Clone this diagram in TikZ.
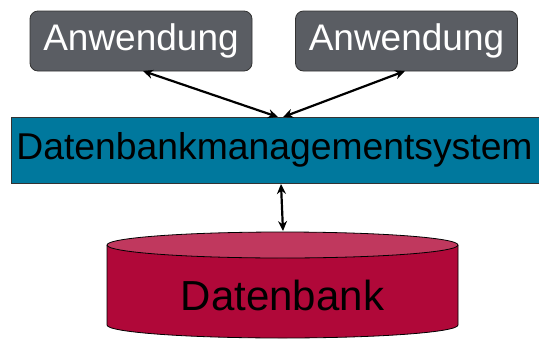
\documentclass[tikz,border=0pt]{standalone}
\usepackage{fontspec}
\setmainfont{Liberation Sans}
\usetikzlibrary{arrows.meta}
\definecolor{appgray}{HTML}{5A5D63}
\definecolor{dbmsblue}{HTML}{00789D}
\definecolor{dbbody}{HTML}{B00839}
\definecolor{dbtop}{HTML}{C0385E}
\tikzset{
  appbox/.style={draw=black!80, line width=0.8pt, fill=appgray, rounded corners=8pt,
    minimum width=222pt, minimum height=60pt, inner sep=0pt,
    text=white, font=\fontsize{37}{40}\selectfont},
  dbmsbox/.style={draw=black!80, line width=0.8pt, fill=dbmsblue},
  link/.style={line width=2.2pt, {Stealth[length=10pt,width=9pt]}-{Stealth[length=10pt,width=9pt]}}
}
\begin{document}
\begin{tikzpicture}[x=1pt,y=-1pt]
\useasboundingbox (0,0) rectangle (539,338);
% applications
\node[appbox] (app1) at (141,41) {Anwendung};
\node[appbox] (app2) at (406.5,41) {Anwendung};
% DBMS bar
\draw[dbmsbox] (11,117) rectangle (542,183);
\node[inner sep=0pt, font=\fontsize{37.3}{40}\selectfont] (dbms) at (274.5,150) {Datenbankmanagementsystem};
% database cylinder
\fill[dbbody] (107,245) -- (107,325) arc[start angle=180, end angle=360, x radius=175.5, y radius=-13] -- (458,245) -- cycle;
\draw[black, line width=0.8pt] (107,245) -- (107,325) arc[start angle=180, end angle=360, x radius=175.5, y radius=-13] -- (458,245);
\draw[black, line width=0.8pt, fill=dbtop] (282.5,245) ellipse[x radius=175.5, y radius=13];
\node[inner sep=0pt, font=\fontsize{42}{46}\selectfont] (db) at (282.5,295) {Datenbank};
% connection points
\coordinate (a1) at (143,71);
\coordinate (a2) at (405,71);
\coordinate (m1) at (278,117);
\coordinate (m2) at (283,117);
\coordinate (b1) at (281,184);
\coordinate (b2) at (283,231);
\draw[link] (a1) -- (m1);
\draw[link] (a2) -- (m2);
\draw[link] (b1) -- (b2);
\end{tikzpicture}
\end{document}
